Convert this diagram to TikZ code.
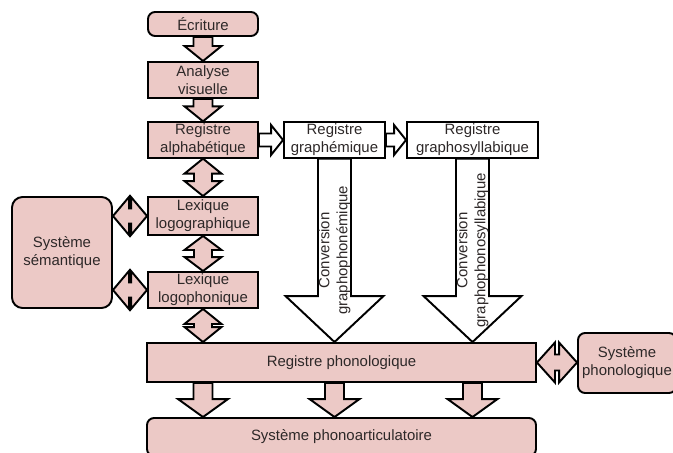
\documentclass[tikz,border=0pt]{standalone}
\usepackage{fontspec}
\setmainfont{Liberation Sans}
\usetikzlibrary{calc}

\definecolor{rosebox}{RGB}{236,201,198}
\definecolor{inkgray}{RGB}{45,40,40}

% block arrows: #1 style, #2 from, #3 to, #4 shaft half width, #5 head half width, #6 head length
\newcommand{\downblock}[6]{%
  \draw[#1] let \p1=(#2), \p2=(#3) in
    (\x1-#4,\y1) -- (\x1-#4,\y2+#6) -- (\x1-#5,\y2+#6) -- (\x1,\y2)
    -- (\x1+#5,\y2+#6) -- (\x1+#4,\y2+#6) -- (\x1+#4,\y1) -- cycle;}
\newcommand{\rightblock}[6]{%
  \draw[#1] let \p1=(#2), \p2=(#3) in
    (\x1,\y1+#4) -- (\x2-#6,\y1+#4) -- (\x2-#6,\y1+#5) -- (\x2,\y1)
    -- (\x2-#6,\y1-#5) -- (\x2-#6,\y1-#4) -- (\x1,\y1-#4) -- cycle;}
\newcommand{\vdoubleblock}[6]{%
  \draw[#1] let \p1=(#2), \p2=(#3) in
    (\x1,\y1) -- (\x1+#5,\y1-#6) -- (\x1+#4,\y1-#6) -- (\x1+#4,\y2+#6)
    -- (\x1+#5,\y2+#6) -- (\x1,\y2) -- (\x1-#5,\y2+#6) -- (\x1-#4,\y2+#6)
    -- (\x1-#4,\y1-#6) -- (\x1-#5,\y1-#6) -- cycle;}
\newcommand{\hdoubleblock}[6]{%
  \draw[#1] let \p1=(#2), \p2=(#3) in
    (\x1,\y1) -- (\x1+#6,\y1+#5) -- (\x1+#6,\y1+#4) -- (\x2-#6,\y1+#4)
    -- (\x2-#6,\y1+#5) -- (\x2,\y1) -- (\x2-#6,\y1-#5) -- (\x2-#6,\y1-#4)
    -- (\x1+#6,\y1-#4) -- (\x1+#6,\y1-#5) -- cycle;}

\tikzset{
  box/.style={draw, line width=1.1pt, fill=rosebox, text=inkgray, align=center,
    inner sep=1pt, font=\fontsize{8.5}{10.2}\selectfont},
  whitebox/.style={box, fill=white},
  roundbox/.style={box, rounded corners=4pt},
  pinkarrow/.style={draw, line width=1.1pt, fill=rosebox, line join=miter},
  whitearrow/.style={pinkarrow, fill=white},
  convlabel/.style={rotate=90, align=center, text=inkgray, inner sep=0pt,
    font=\fontsize{8.5}{10.2}\selectfont},
}

\begin{document}
\begin{tikzpicture}
    \useasboundingbox (0,0) rectangle (13.46,-9.04);

    % Reading column
    \node[roundbox, minimum width=2.2cm, minimum height=0.48cm] (ecriture) at (4.06,-0.48) {Écriture};
    \node[box, minimum width=2.2cm, minimum height=0.72cm] (analyse) at (4.06,-1.60) {Analyse\\visuelle};
    \node[box, minimum width=2.2cm, minimum height=0.68cm] (alpha) at (4.06,-2.80) {Registre\\alphabétique};
    \node[box, minimum width=2.2cm, minimum height=0.76cm] (logograph) at (4.06,-4.32) {Lexique\\logographique};
    \node[box, minimum width=2.2cm, minimum height=0.72cm] (logophon) at (4.06,-5.80) {Lexique\\logophonique};

    % Graphemic registers
    \node[whitebox, minimum width=2.02cm, minimum height=0.70cm] (graphem) at (6.69,-2.80) {Registre\\graphémique};
    \node[whitebox, minimum width=2.62cm, minimum height=0.70cm] (graphosyl) at (9.45,-2.80) {Registre\\graphosyllabique};

    % Semantic system
    \node[roundbox, rounded corners=6pt, minimum width=2.0cm, minimum height=2.22cm] (semant) at (1.24,-5.05) {Système\\sémantique};

    % Phonological level
    \node[box, minimum width=7.78cm, minimum height=0.78cm] (phonoreg) at (6.83,-7.25) {Registre phonologique};
    \node[roundbox, minimum width=1.96cm, minimum height=1.20cm] (phonosys) at (12.54,-7.26) {Système\\phonologique};
    \node[roundbox, minimum width=7.78cm, minimum height=0.76cm] (phonoart) at (6.83,-8.74) {Système phonoarticulatoire};

    % Arrows of the reading column
    \downblock{pinkarrow}{ecriture.south}{analyse.north}{0.19cm}{0.37cm}{0.30cm}
    \downblock{pinkarrow}{analyse.south}{alpha.north}{0.19cm}{0.37cm}{0.30cm}
    \vdoubleblock{pinkarrow}{alpha.south}{logograph.north}{0.18cm}{0.37cm}{0.30cm}
    \vdoubleblock{pinkarrow}{logograph.south}{logophon.north}{0.18cm}{0.37cm}{0.28cm}
    \vdoubleblock{pinkarrow}{logophon.south}{phonoreg.north}{0.18cm}{0.37cm}{0.30cm}

    % Arrows to the graphemic registers
    \rightblock{whitearrow}{alpha.east}{graphem.west}{0.13cm}{0.30cm}{0.24cm}
    \rightblock{whitearrow}{graphem.east}{graphosyl.west}{0.13cm}{0.30cm}{0.24cm}

    % Links with the semantic and phonological systems
    \hdoubleblock{pinkarrow}{semant.east |- logograph}{logograph.west}{0.15cm}{0.38cm}{0.32cm}
    \hdoubleblock{pinkarrow}{semant.east |- logophon}{logophon.west}{0.15cm}{0.38cm}{0.32cm}
    \hdoubleblock{pinkarrow}{phonoreg.east}{phonosys.west}{0.16cm}{0.40cm}{0.36cm}

    % Conversions
    \downblock{whitearrow}{graphem.south}{phonoreg.north}{0.33cm}{0.98cm}{0.92cm}
    \downblock{whitearrow}{graphosyl.south}{phonoreg.north}{0.33cm}{0.98cm}{0.92cm}
    \node[convlabel] (conv1) at ($(graphem.south)!0.5!(graphem.south |- phonoreg.north)$) {Conversion\\graphophonémique};
    \node[convlabel] (conv2) at ($(graphosyl.south)!0.5!(graphosyl.south |- phonoreg.north)$) {Conversion\\graphophonosyllabique};

    % Output arrows
    \downblock{pinkarrow}{phonoreg.south -| logophon}{phonoart.north}{0.19cm}{0.50cm}{0.36cm}
    \downblock{pinkarrow}{phonoreg.south -| graphem}{phonoart.north}{0.19cm}{0.50cm}{0.36cm}
    \downblock{pinkarrow}{phonoreg.south -| graphosyl}{phonoart.north}{0.19cm}{0.50cm}{0.36cm}
\end{tikzpicture}
\end{document}
